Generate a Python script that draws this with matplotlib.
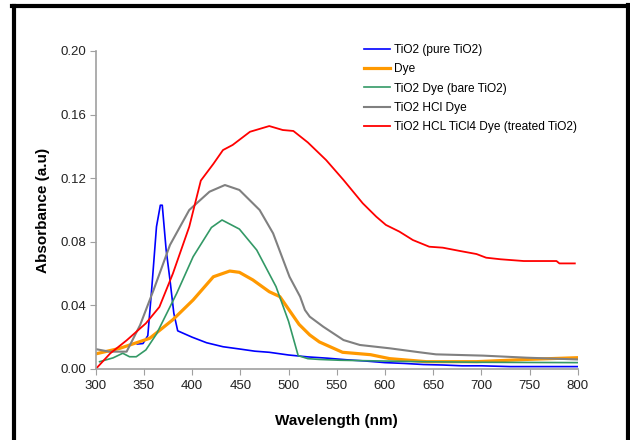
import matplotlib.pyplot as plt
from matplotlib.lines import Line2D

plt.rcParams['font.family'] = ['Liberation Sans', 'DejaVu Sans']

# TiO2 (pure TiO2)
blue_x = [343, 349, 354, 358, 363, 367, 369, 373, 377, 381, 385, 400, 415, 432, 450, 465, 480,
          500, 520, 540, 560, 580, 600, 620, 640, 660, 680, 700, 730, 800]
blue_y = [0.0157, 0.016, 0.021, 0.05, 0.0895, 0.103, 0.103, 0.075, 0.056, 0.035, 0.024, 0.020,
          0.0165, 0.014, 0.0125, 0.0112, 0.0105, 0.0088, 0.0076, 0.0068, 0.0058, 0.005, 0.004,
          0.0035, 0.0028, 0.0025, 0.002, 0.002, 0.0015, 0.0015]

# Dye
orange_x = [300, 325, 356, 380, 401, 422, 439, 449, 463, 480, 491, 511, 522, 532, 556, 585,
            605, 643, 695, 747, 800]
orange_y = [0.0095, 0.013, 0.0193, 0.031, 0.0434, 0.058, 0.0616, 0.0608, 0.056, 0.0486, 0.0455,
            0.028, 0.0214, 0.017, 0.0105, 0.009, 0.0065, 0.0046, 0.0046, 0.006, 0.0071]

# TiO2 Dye (bare TiO2)
green_x = [304, 318, 328, 335, 342, 352, 363, 384, 401, 420, 431, 449, 467, 487, 500, 510, 520,
           532, 553, 636, 700, 800]
green_y = [0.0046, 0.007, 0.0099, 0.0077, 0.0077, 0.012, 0.022, 0.0476, 0.0706, 0.089, 0.0937,
           0.088, 0.0748, 0.0518, 0.030, 0.0084, 0.0065, 0.006, 0.0055, 0.0046, 0.0042, 0.004]

# TiO2 HCl Dye
gray_x = [300, 314, 332, 346, 360, 377, 397, 418, 434, 449, 470, 484, 501, 512, 517, 522, 536,
          557, 574, 605, 636, 653, 702, 747, 800]
gray_y = [0.0125, 0.0109, 0.0109, 0.0276, 0.0497, 0.078, 0.100, 0.1115, 0.1157, 0.1126, 0.100,
          0.0853, 0.058, 0.0455, 0.0371, 0.0329, 0.0266, 0.0182, 0.0151, 0.013, 0.0105, 0.0092,
          0.0084, 0.0071, 0.006]

# TiO2 HCL TiCl4 Dye (treated TiO2)
red_x = [300, 315, 332, 352, 366, 380, 397, 409, 422, 432, 442, 460, 480, 494, 505, 520, 539,
         557, 577, 591, 601, 615, 629, 646, 660, 678, 695, 705, 720, 744, 778, 781, 797]
red_y = [0.0, 0.0098, 0.018, 0.0287, 0.039, 0.060, 0.0895, 0.1185, 0.129, 0.1377, 0.1409,
         0.1492, 0.1528, 0.1503, 0.1497, 0.1425, 0.1314, 0.1189, 0.1042, 0.0958, 0.0906, 0.0864,
         0.0811, 0.0769, 0.0763, 0.0742, 0.0723, 0.070, 0.069, 0.0679, 0.0679, 0.0664, 0.0664]

fig = plt.figure(figsize=(6.3, 4.4), dpi=100)
ax = fig.add_axes([0.152, 0.1614, 0.765, 0.7227])

ax.plot(blue_x, blue_y, color='#0000ff', lw=1.2, label='TiO2 (pure TiO2)')
ax.plot(orange_x, orange_y, color='#ff9900', lw=2.3, label='Dye')
ax.plot(green_x, green_y, color='#339966', lw=1.2, label='TiO2 Dye (bare TiO2)')
ax.plot(gray_x, gray_y, color='#808080', lw=1.5, label='TiO2 HCl Dye')
ax.plot(red_x, red_y, color='#ff0000', lw=1.3, label='TiO2 HCL TiCl4 Dye (treated TiO2)')

ax.set_xlim(300, 800)
ax.set_ylim(0, 0.20)
ax.set_xticks(range(300, 801, 50))
ax.set_yticks([0, 0.04, 0.08, 0.12, 0.16, 0.20])
ax.set_yticklabels(['0.00', '0.04', '0.08', '0.12', '0.16', '0.20'])
ax.spines['top'].set_visible(False)
ax.spines['right'].set_visible(False)
for s in ['left', 'bottom']:
    ax.spines[s].set_color('#a0a0a0')
    ax.spines[s].set_linewidth(1.2)
ax.tick_params(direction='out', length=4, color='#a0a0a0', labelsize=9.5,
               labelcolor='#222222', pad=4)
ax.tick_params(axis='y', pad=3)

ax.set_xlabel('Wavelength (nm)', fontsize=11, fontweight='bold', labelpad=16)
ax.set_ylabel('Absorbance (a.u)', fontsize=11, fontweight='bold', labelpad=7)

ax.legend(loc='upper left', bbox_to_anchor=(0.547, 1.038), frameon=False, fontsize=8.6,
          handlelength=2.2, handletextpad=0.3, labelspacing=0.62, borderaxespad=0.0)

# outer black frame
fig.add_artist(Line2D([14 / 630, 14 / 630], [0, 1 - 6.5 / 440], color='black', lw=3,
                      transform=fig.transFigure))
fig.add_artist(Line2D([12 / 630, 630 / 630], [1 - 6.5 / 440, 1 - 6.5 / 440], color='black',
                      lw=3, transform=fig.transFigure))
fig.add_artist(Line2D([628 / 630, 628 / 630], [0, 1 - 5 / 440], color='black', lw=3,
                      transform=fig.transFigure))

fig.savefig('out.png', dpi=100)
